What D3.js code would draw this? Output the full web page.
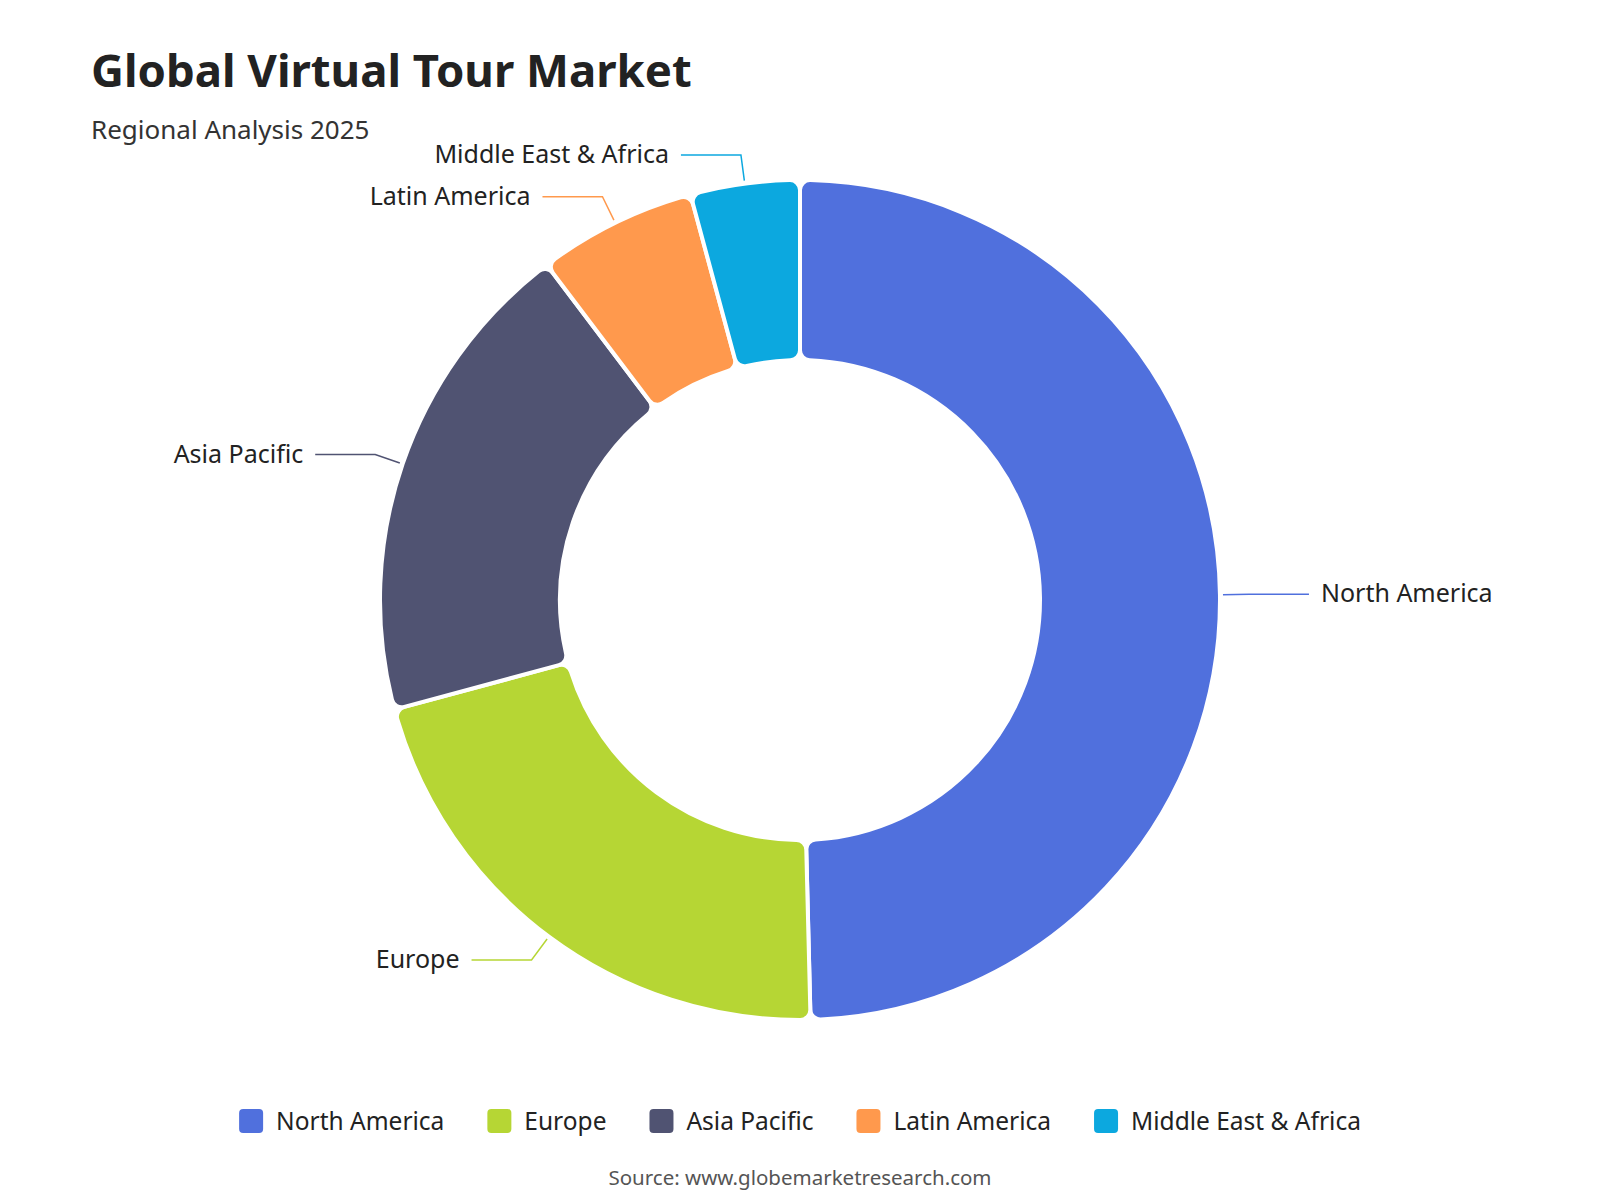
<!DOCTYPE html>
<html>
<head>
<meta charset="utf-8">
<script src="https://cdn.jsdelivr.net/npm/d3@7"></script>
<style>
  body { margin: 0; background: #fff; }
  svg { font-family: "Segoe UI", "Noto Sans", "Open Sans", sans-serif; }
</style>
</head>
<body>
<div id="chart"></div>
<script>
// regional shares, % of 2025 market
var regions = ["North America", "Europe", "Asia Pacific", "Latin America", "Middle East & Africa"];
var shares = [49.6, 21.2, 18.9, 6.1, 4.2];
var palette = ["#5070dd", "#b6d634", "#505372", "#ff994d", "#0ca8df"];

var titleText = "Global Virtual Tour Market";
var subtitleText = "Regional Analysis 2025";
var sourceText = "Source: www.globemarketresearch.com";

function drawChart() {
  var width = 1600, height = 1200;
  var cx = 800, cy = 600;
  var outer = 420, inner = 240;

  var svg = d3.select("#chart").append("svg")
    .attr("width", width).attr("height", height);

  svg.append("text")
    .attr("x", 91).attr("y", 87)
    .attr("font-size", 45.5).attr("font-weight", 700)
    .attr("fill", "#222")
    .text(titleText);

  svg.append("text")
    .attr("x", 91).attr("y", 139)
    .attr("font-size", 26)
    .attr("fill", "#333")
    .text(subtitleText);

  var data = regions.map(function(r, i) { return { name: r, value: shares[i], color: palette[i] }; });

  var pie = d3.pie().sort(null).value(d => d.value);
  var arcs = pie(data);

  var arc = d3.arc().innerRadius(inner).outerRadius(outer).cornerRadius(10);

  var g = svg.append("g").attr("transform", `translate(${cx}, ${cy})`);

  g.selectAll("path.slice")
    .data(arcs)
    .enter()
    .append("path")
    .attr("class", "slice")
    .attr("d", arc)
    .attr("fill", d => d.data.color)
    .attr("stroke", "#fff")
    .attr("stroke-width", 4)
    .attr("stroke-linejoin", "round");

  // leader lines: radial bit then horizontal bit
  function pt(a, r) { return [r * Math.sin(a), -r * Math.cos(a)]; }

  arcs.forEach(function(d) {
    var mid = (d.startAngle + d.endAngle) / 2;
    var side = Math.sin(mid) >= 0 ? 1 : -1;
    var p1 = pt(mid, outer + 3);
    var p2 = pt(mid, outer + 29);
    var p3 = [p2[0] + side * 60, p2[1]];

    g.append("polyline")
      .attr("points", [p1, p2, p3].map(p => p.join(",")).join(" "))
      .attr("fill", "none")
      .attr("stroke", d.data.color)
      .attr("stroke-width", 1.5);

    g.append("text")
      .attr("x", p3[0] + side * 12)
      .attr("y", p3[1] - 2)
      .attr("dominant-baseline", "central")
      .attr("text-anchor", side > 0 ? "start" : "end")
      .attr("font-size", 25)
      .attr("fill", "#222")
      .text(d.data.name);
  });

  // legend, centred under the chart
  var legend = svg.append("g");
  var x = 0;
  data.forEach(function(d) {
    var item = legend.append("g").attr("transform", `translate(${x}, 0)`);
    item.append("rect")
      .attr("x", 0).attr("y", -12)
      .attr("width", 24).attr("height", 24)
      .attr("rx", 4)
      .attr("fill", d.color);
    var t = item.append("text")
      .attr("x", 37).attr("y", -1)
      .attr("dominant-baseline", "central")
      .attr("font-size", 24.5)
      .attr("fill", "#222")
      .text(d.name);
    x += 37 + t.node().getComputedTextLength() + 43;
  });
  var legendWidth = x - 43;
  legend.attr("transform", `translate(${cx - legendWidth / 2}, 1121)`);

  svg.append("text")
    .attr("x", cx).attr("y", 1185)
    .attr("text-anchor", "middle")
    .attr("font-size", 20.5)
    .attr("fill", "#555")
    .text(sourceText);
}

document.addEventListener('DOMContentLoaded', function(){
  drawChart();
});
</script>
</body>
</html>
